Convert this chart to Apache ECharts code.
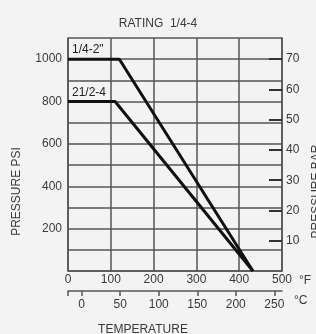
<!DOCTYPE html>
<html>
<head>
<meta charset="utf-8">
<script src="https://cdn.jsdelivr.net/npm/echarts@6/dist/echarts.min.js"></script>
<style>
  html, body { margin: 0; padding: 0; background: #f3f3f3; }
  #chart { width: 316px; height: 334px; }
</style>
</head>
<body>
<div id="chart"></div>
<script>
  // 数据
  var seriesNames = ['1/4-2"', '21/2-4'];
  var smallTemp = [0, 120, 432];      // °F
  var smallPsi = [1000, 1000, 0];
  var largeTemp = [0, 110, 432];      // °F
  var largePsi = [800, 800, 0];
  var psiLabels = [200, 400, 600, 800, 1000];
  var barTicks = [10, 20, 30, 40, 50, 60, 70];
  var celsiusTicks = [0, 50, 100, 150, 200, 250];

  var textColor = '#3a3a3a';
  var gridColor = '#555';
  var font = 'Liberation Sans';
  var fs = 12;
  var cMin = (0 - 32) * 5 / 9, cMax = (500 - 32) * 5 / 9;

  function pairs(xs, ys, name) {
    return xs.map(function (x, i) {
      var item = { value: [x, ys[i]] };
      if (i === 0) {
        item.label = {
          show: true, formatter: name, position: 'right',
          distance: 4, offset: [0, -9],
          color: '#222', fontSize: fs, fontFamily: font
        };
      }
      return item;
    });
  }

  var myChart = echarts.init(document.getElementById('chart'));
  myChart.setOption({
    backgroundColor: '#f3f3f3',
    animation: false,
    title: {
      text: 'RATING  1/4-4', left: 'center', top: 13,
      textStyle: { fontWeight: 'normal', fontSize: fs, color: textColor, fontFamily: font }
    },
    grid: { left: 68, right: 34, top: 38, bottom: 63, outerBoundsMode: 'none', containLabel: false },
    xAxis: [{
      type: 'value', min: 0, max: 500, interval: 100, position: 'bottom',
      name: '°F', nameLocation: 'end', nameGap: 17,
      nameTextStyle: { color: textColor, fontSize: fs, fontFamily: font, verticalAlign: 'top', padding: [4, 0, 0, 0] },
      axisLine: { show: true, onZero: false, lineStyle: { color: gridColor, width: 1.5 } },
      axisTick: { show: false },
      axisLabel: { margin: 3, color: textColor, fontSize: fs, fontFamily: font },
      splitLine: { show: true, lineStyle: { color: gridColor, width: 1.5 } }
    }, {
      // 摄氏度刻度
      type: 'value', min: cMin, max: cMax,
      position: 'bottom', offset: 20,
      name: 'TEMPERATURE', nameLocation: 'middle', nameGap: 33,
      nameTextStyle: { color: textColor, fontSize: fs, fontFamily: font, padding: [0, 64, 0, 0] },
      axisLine: { show: true, onZero: false, lineStyle: { color: gridColor, width: 1.5 } },
      axisTick: {
        show: true, length: 5, lineStyle: { color: gridColor, width: 1.5 },
        customValues: [cMin].concat(celsiusTicks)
      },
      axisLabel: {
        margin: 8, color: textColor, fontSize: fs, fontFamily: font,
        customValues: celsiusTicks
      },
      splitLine: { show: false }
    }, {
      // 只放 °C
      type: 'value', min: cMin, max: cMax,
      position: 'bottom', offset: 20,
      name: '°C', nameLocation: 'end', nameGap: 12,
      nameTextStyle: { color: textColor, fontSize: fs, fontFamily: font, verticalAlign: 'top', padding: [4, 0, 0, 0] },
      axisLine: { show: false, onZero: false },
      axisTick: { show: false }, axisLabel: { show: false }, splitLine: { show: false }
    }],
    yAxis: [{
      type: 'value', min: 0, max: 1100, interval: 100, position: 'left',
      name: 'PRESSURE PSI', nameLocation: 'middle', nameGap: 45, nameRotate: 90,
      nameTextStyle: { color: textColor, fontSize: fs, fontFamily: font, padding: [0, 74, 0, 0] },
      axisLine: { show: true, onZero: false, lineStyle: { color: gridColor, width: 1.5 } },
      axisTick: { show: false },
      axisLabel: {
        margin: 6, color: textColor, fontSize: fs, fontFamily: font,
        formatter: function (v) { return psiLabels.indexOf(v) >= 0 ? v : ''; }
      },
      splitLine: { show: true, lineStyle: { color: gridColor, width: 1.5 } }
    }, {
      // 右侧 bar
      type: 'value', min: 0, max: 77, position: 'right',
      name: 'PRESSURE BAR', nameLocation: 'middle', nameGap: 28, nameRotate: 90,
      nameTextStyle: { color: textColor, fontSize: fs, fontFamily: font, padding: [0, 74, 0, 0] },
      axisLine: { show: true, onZero: false, lineStyle: { color: gridColor, width: 1.5 } },
      axisTick: {
        show: true, inside: true, length: 13,
        lineStyle: { color: '#333', width: 2 }, customValues: barTicks
      },
      axisLabel: {
        margin: 4, color: textColor, fontSize: fs, fontFamily: font,
        customValues: barTicks
      },
      splitLine: { show: false }
    }],
    series: [{
      name: seriesNames[0], type: 'line', xAxisIndex: 0, yAxisIndex: 0,
      symbol: 'circle', symbolSize: 0, showSymbol: true,
      data: pairs(smallTemp, smallPsi, seriesNames[0]),
      lineStyle: { color: '#111', width: 3 }, itemStyle: { color: '#111' }
    }, {
      name: seriesNames[1], type: 'line', xAxisIndex: 0, yAxisIndex: 0,
      symbol: 'circle', symbolSize: 0, showSymbol: true,
      data: pairs(largeTemp, largePsi, seriesNames[1]),
      lineStyle: { color: '#111', width: 3 }, itemStyle: { color: '#111' }
    }]
  });
</script>
</body>
</html>
